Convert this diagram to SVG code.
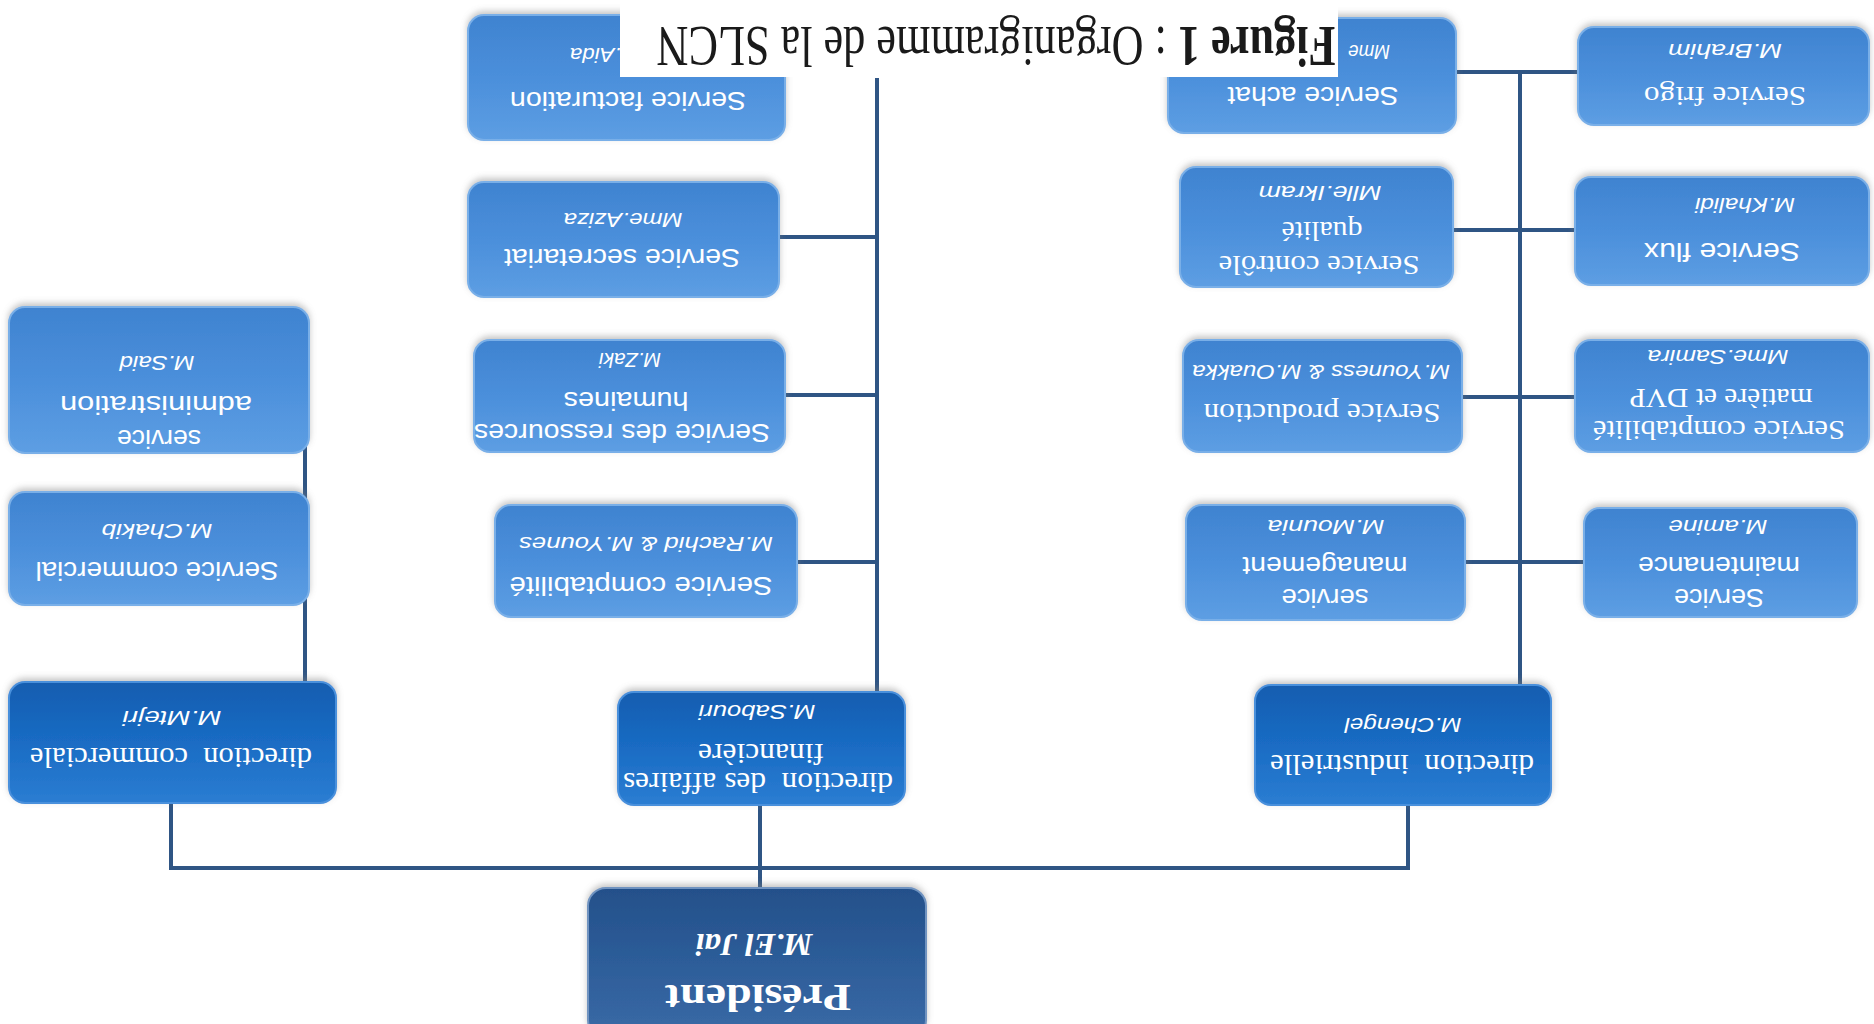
<svg xmlns="http://www.w3.org/2000/svg" width="1874" height="1024" viewBox="0 0 1874 1024">
<defs>
<linearGradient id="gs" x1="0" y1="0" x2="0" y2="1">
<stop offset="0" stop-color="#3f83d0"/><stop offset="0.5" stop-color="#4b8fdb"/><stop offset="1" stop-color="#5d9ee3"/>
</linearGradient>
<linearGradient id="gd" x1="0" y1="0" x2="0" y2="1">
<stop offset="0" stop-color="#135db0"/><stop offset="0.5" stop-color="#1a6cc4"/><stop offset="1" stop-color="#2b7dd2"/>
</linearGradient>
<linearGradient id="gp" x1="0" y1="0" x2="0" y2="1">
<stop offset="0" stop-color="#24508a"/><stop offset="0.5" stop-color="#2d5d99"/><stop offset="1" stop-color="#3a6aa6"/>
</linearGradient>
<filter id="sh" x="-10%" y="-20%" width="120%" height="140%">
<feDropShadow dx="0" dy="-3" stdDeviation="3" flood-color="#808080" flood-opacity="0.45"/>
</filter>
</defs>
<style>
.s{fill:url(#gs);stroke:#79afe8;stroke-width:2;filter:url(#sh)}
.d{fill:url(#gd);stroke:#4a90dc;stroke-width:2;filter:url(#sh)}
.p{fill:url(#gp);stroke:#6f93c0;stroke-width:2;filter:url(#sh)}
text{fill:#ffffff;text-anchor:middle;dominant-baseline:central;white-space:pre}
.t{font-family:"Liberation Sans",Arial,sans-serif;font-size:25px}
.r{font-family:"Liberation Serif","Times New Roman",serif;font-size:27px}
.n{font-family:"Liberation Sans",Arial,sans-serif;font-size:20px;font-style:italic}
.dt{font-family:"Liberation Serif","Times New Roman",serif;font-size:30px}
.c{fill:none;stroke:#2f5584;stroke-width:4}
</style>
<rect width="1874" height="1024" fill="#ffffff"/>
<g id="connectors" class="c">
<path d="M877 78V692M779 237H877M785 395H877M797 562H877"/>
<path d="M1520 72V685M1456 72H1578M1453 230H1575M1462 397H1575M1465 562H1584"/>
<path d="M305 380V682"/>
<path d="M171 803V868H1408V805M760 805V888"/>
</g>
<g id="n-facturation"><rect class="s" x="468" y="15" width="317" height="125" rx="16"/>
<text class="t" x="628" y="101" textLength="236" lengthAdjust="spacingAndGlyphs" transform="rotate(180 628 101)">Service facturation</text>
<text class="n" x="620" y="55" textLength="100" lengthAdjust="spacingAndGlyphs" transform="rotate(180 620 55)">Mme.Aida</text></g>
<g id="n-secretariat"><rect class="s" x="468" y="182" width="311" height="115" rx="16"/>
<text class="t" x="622" y="258" textLength="236" lengthAdjust="spacingAndGlyphs" transform="rotate(180 622 258)">Service secretariat</text>
<text class="n" x="623" y="220" textLength="119" lengthAdjust="spacingAndGlyphs" transform="rotate(180 623 220)">Mme.Aziza</text></g>
<g id="n-rh"><rect class="s" x="474" y="340" width="311" height="112" rx="16"/>
<text class="t" x="622" y="433" textLength="296" lengthAdjust="spacingAndGlyphs" transform="rotate(180 622 433)">Service des ressources</text>
<text class="t" x="626" y="401" textLength="125" lengthAdjust="spacingAndGlyphs" transform="rotate(180 626 401)">humaines</text>
<text class="n" x="630" y="360" textLength="62" lengthAdjust="spacingAndGlyphs" transform="rotate(180 630 360)">M.Zaki</text></g>
<g id="n-admin"><rect class="s" x="9" y="307" width="300" height="146" rx="16"/>
<text class="t" x="159" y="439" textLength="84" lengthAdjust="spacingAndGlyphs" transform="rotate(180 159 439)">service</text>
<text class="t" x="156" y="405" textLength="192" lengthAdjust="spacingAndGlyphs" transform="rotate(180 156 405)">administration</text>
<text class="n" x="157" y="363" textLength="75" lengthAdjust="spacingAndGlyphs" transform="rotate(180 157 363)">M.Said</text></g>
<g id="n-commercial"><rect class="s" x="9" y="492" width="300" height="113" rx="16"/>
<text class="t" x="157" y="571" textLength="243" lengthAdjust="spacingAndGlyphs" transform="rotate(180 157 571)">Service commercial</text>
<text class="n" x="157" y="531" textLength="111" lengthAdjust="spacingAndGlyphs" transform="rotate(180 157 531)">M.Chakib</text></g>
<g id="n-comptabilite"><rect class="s" x="495" y="505" width="302" height="112" rx="16"/>
<text class="t" x="641" y="586" textLength="263" lengthAdjust="spacingAndGlyphs" transform="rotate(180 641 586)">Service comptabilité</text>
<text class="n" x="646" y="544" textLength="254" lengthAdjust="spacingAndGlyphs" transform="rotate(180 646 544)">M.Rachid &amp; M.Younes</text></g>
<g id="n-dir-commerciale"><rect class="d" x="9" y="682" width="327" height="121" rx="16"/>
<text class="dt" x="171" y="758" textLength="282" lengthAdjust="spacingAndGlyphs" transform="rotate(180 171 758)">direction  commerciale</text>
<text class="n" x="172" y="718" textLength="99" lengthAdjust="spacingAndGlyphs" transform="rotate(180 172 718)">M.Mtejri</text></g>
<g id="n-dir-financiere"><rect class="d" x="618" y="692" width="287" height="113" rx="16"/>
<text class="dt" x="758" y="783" textLength="270" lengthAdjust="spacingAndGlyphs" transform="rotate(180 758 783)">direction  des affaires</text>
<text class="dt" x="761" y="754" textLength="126" lengthAdjust="spacingAndGlyphs" transform="rotate(180 761 754)">financière</text>
<text class="n" x="757" y="712" textLength="117" lengthAdjust="spacingAndGlyphs" transform="rotate(180 757 712)">M.Sabouri</text></g>
<g id="n-president"><rect class="p" x="588" y="888" width="338" height="150" rx="18"/>
<text x="758" y="998" style="font-family:'Liberation Serif','Times New Roman',serif;font-size:38px;font-weight:bold" textLength="186" lengthAdjust="spacingAndGlyphs" transform="rotate(180 758 998)">Président</text>
<text x="754" y="945" style="font-family:'Liberation Serif','Times New Roman',serif;font-size:32px;font-weight:bold;font-style:italic" textLength="117" lengthAdjust="spacingAndGlyphs" transform="rotate(180 754 945)">M.El Jai</text></g>
<g id="n-achat"><rect class="s" x="1168" y="18" width="288" height="115" rx="16"/>
<text class="t" x="1313" y="96" textLength="171" lengthAdjust="spacingAndGlyphs" transform="rotate(180 1313 96)">Service achat</text>
<text class="n" x="1369" y="52" textLength="42" lengthAdjust="spacingAndGlyphs" transform="rotate(180 1369 52)">Mme</text></g>
<g id="n-frigo"><rect class="s" x="1578" y="27" width="291" height="98" rx="16"/>
<text class="r" x="1725" y="96" textLength="162" lengthAdjust="spacingAndGlyphs" transform="rotate(180 1725 96)">Service frigo</text>
<text class="n" x="1725" y="51" textLength="114" lengthAdjust="spacingAndGlyphs" transform="rotate(180 1725 51)">M.Brahim</text></g>
<g id="n-controle"><rect class="s" x="1180" y="167" width="273" height="120" rx="16"/>
<text class="r" x="1319" y="265" textLength="201" lengthAdjust="spacingAndGlyphs" transform="rotate(180 1319 265)">Service contrôle</text>
<text class="r" x="1322" y="231" textLength="81" lengthAdjust="spacingAndGlyphs" transform="rotate(180 1322 231)">qualité</text>
<text class="n" x="1320" y="193" textLength="123" lengthAdjust="spacingAndGlyphs" transform="rotate(180 1320 193)">Mlle.Ikram</text></g>
<g id="n-flux"><rect class="s" x="1575" y="177" width="294" height="108" rx="16"/>
<text class="t" x="1722" y="252" textLength="156" lengthAdjust="spacingAndGlyphs" transform="rotate(180 1722 252)">Service flux</text>
<text class="n" x="1745" y="205" textLength="100" lengthAdjust="spacingAndGlyphs" transform="rotate(180 1745 205)">M.Khalidi</text></g>
<g id="n-production"><rect class="s" x="1183" y="340" width="279" height="112" rx="16"/>
<text class="r" x="1322" y="413" textLength="237" lengthAdjust="spacingAndGlyphs" transform="rotate(180 1322 413)">Service production</text>
<text class="n" x="1321" y="372" textLength="258" lengthAdjust="spacingAndGlyphs" transform="rotate(180 1321 372)">M.Youness &amp; M.Ouakka</text></g>
<g id="n-compta-matiere"><rect class="s" x="1575" y="340" width="294" height="112" rx="16"/>
<text class="r" x="1719" y="430" textLength="252" lengthAdjust="spacingAndGlyphs" transform="rotate(180 1719 430)">Service comptabilité</text>
<text class="r" x="1721" y="398" textLength="183" lengthAdjust="spacingAndGlyphs" transform="rotate(180 1721 398)">matière et DVP</text>
<text class="n" x="1718" y="357" textLength="141" lengthAdjust="spacingAndGlyphs" transform="rotate(180 1718 357)">Mme.Samira</text></g>
<g id="n-management"><rect class="s" x="1186" y="505" width="279" height="115" rx="16"/>
<text class="t" x="1325" y="598" textLength="87" lengthAdjust="spacingAndGlyphs" transform="rotate(180 1325 598)">service</text>
<text class="t" x="1325" y="566" textLength="165" lengthAdjust="spacingAndGlyphs" transform="rotate(180 1325 566)">management</text>
<text class="n" x="1326" y="527" textLength="117" lengthAdjust="spacingAndGlyphs" transform="rotate(180 1326 527)">M.Mounia</text></g>
<g id="n-maintenance"><rect class="s" x="1584" y="508" width="273" height="109" rx="16"/>
<text class="t" x="1719" y="598" textLength="90" lengthAdjust="spacingAndGlyphs" transform="rotate(180 1719 598)">Service</text>
<text class="t" x="1719" y="566" textLength="162" lengthAdjust="spacingAndGlyphs" transform="rotate(180 1719 566)">maintenance</text>
<text class="n" x="1718" y="527" textLength="99" lengthAdjust="spacingAndGlyphs" transform="rotate(180 1718 527)">M.amine</text></g>
<g id="n-dir-industrielle"><rect class="d" x="1255" y="685" width="296" height="120" rx="16"/>
<text class="dt" x="1402" y="765" textLength="264" lengthAdjust="spacingAndGlyphs" transform="rotate(180 1402 765)">direction  industrielle</text>
<text class="n" x="1403" y="725" textLength="117" lengthAdjust="spacingAndGlyphs" transform="rotate(180 1403 725)">M.Chengel</text></g>
<g id="title">
<rect x="620" y="0" width="718" height="77" fill="#ffffff"/>
<text x="996" y="27" style="fill:#1a1a1a;font-family:'Liberation Serif','Times New Roman',serif;font-size:57px;dominant-baseline:auto" textLength="679" lengthAdjust="spacingAndGlyphs" transform="rotate(180 996 27)"><tspan font-weight="bold">Figure 1</tspan> : Organigramme de la SLCN</text>
</g>
</svg>
